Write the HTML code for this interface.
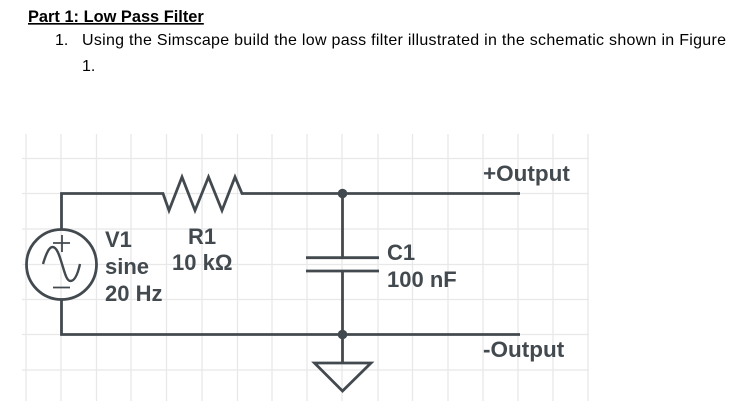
<!DOCTYPE html>
<html>
<head>
<meta charset="utf-8">
<style>
html,body{margin:0;padding:0;background:#fff;}
body{width:754px;height:401px;overflow:hidden;position:relative;}
svg{position:absolute;left:0;top:0;}
text{font-family:"Liberation Sans",Arial,sans-serif;}
.g line{stroke:#e8e8e8;stroke-width:1.3;}
.w{stroke:#434a4f;fill:none;stroke-width:2.8;}
.l{fill:#434a4f;font-weight:bold;font-size:22px;}
.d{fill:#000;font-size:16px;}
</style>
</head>
<body>
<svg width="754" height="401" viewBox="0 0 754 401">
<text x="28" y="22" font-size="16.4" font-weight="bold" fill="#000" text-decoration="underline">Part 1: Low Pass Filter</text>
<text x="55" y="45" class="d">1.</text>
<text x="82" y="45" class="d" textLength="644" lengthAdjust="spacing">Using the Simscape build the low pass filter illustrated in the schematic shown in Figure</text>
<text x="82" y="71" class="d">1.</text>
<g class="g">
<line x1="26" y1="134" x2="26" y2="401"/><line x1="61" y1="134" x2="61" y2="401"/>
<line x1="96.5" y1="134" x2="96.5" y2="401"/><line x1="131" y1="134" x2="131" y2="401"/>
<line x1="166.5" y1="134" x2="166.5" y2="401"/><line x1="202" y1="134" x2="202" y2="401"/>
<line x1="237.5" y1="134" x2="237.5" y2="401"/><line x1="272" y1="134" x2="272" y2="401"/>
<line x1="307" y1="134" x2="307" y2="401"/><line x1="342" y1="134" x2="342" y2="401"/>
<line x1="378" y1="134" x2="378" y2="401"/><line x1="412.5" y1="134" x2="412.5" y2="401"/>
<line x1="448" y1="134" x2="448" y2="401"/><line x1="483" y1="134" x2="483" y2="401"/>
<line x1="518" y1="134" x2="518" y2="401"/><line x1="553" y1="134" x2="553" y2="401"/>
<line x1="588" y1="134" x2="588" y2="401"/>
<line x1="22" y1="158.5" x2="589" y2="158.5"/><line x1="22" y1="193.5" x2="589" y2="193.5"/>
<line x1="22" y1="229" x2="589" y2="229"/><line x1="22" y1="264.5" x2="589" y2="264.5"/>
<line x1="22" y1="299.5" x2="589" y2="299.5"/><line x1="22" y1="334.5" x2="589" y2="334.5"/>
<line x1="22" y1="370" x2="589" y2="370"/>
</g>
<path class="w" d="M61.5 229V193.5H163L169 210.5L182 177L195 210.5L208.5 177L222 210.5L235 177L242 193.5H520"/>
<path class="w" d="M61.5 300V334.5H520"/>
<circle class="w" cx="61.5" cy="264.5" r="35"/>
<path class="w" style="stroke-width:2.4" d="M43 264C46 254 49 247 52.5 247C57 247 59.5 256 62 264C64.5 272 66.5 281 70.5 281C75 281 78 273 80 264"/>
<path class="w" style="stroke-width:1.8" d="M62 235V252M53 243H70M53 287.5H70"/>
<path class="w" d="M342.5 193.5V257.5M342.5 271V363"/>
<path class="w" d="M306 257.7H379M306 271H379"/>
<path class="w" d="M314.5 363H371L342.5 391Z"/>
<circle cx="342.5" cy="193.5" r="4.8" fill="#434a4f"/>
<circle cx="342.5" cy="334.5" r="4.8" fill="#434a4f"/>
<text x="105" y="247" class="l">V1</text>
<text x="105" y="274" class="l">sine</text>
<text x="105" y="301" class="l">20 Hz</text>
<text x="188" y="244" class="l">R1</text>
<text x="172" y="270" class="l">10 kΩ</text>
<text x="387" y="260" class="l">C1</text>
<text x="387" y="287" class="l">100 nF</text>
<text x="483" y="181" class="l" style="font-size:22.5px">+Output</text>
<text x="483" y="357" class="l" style="font-size:22.5px">-Output</text>
</svg>
</body>
</html>
